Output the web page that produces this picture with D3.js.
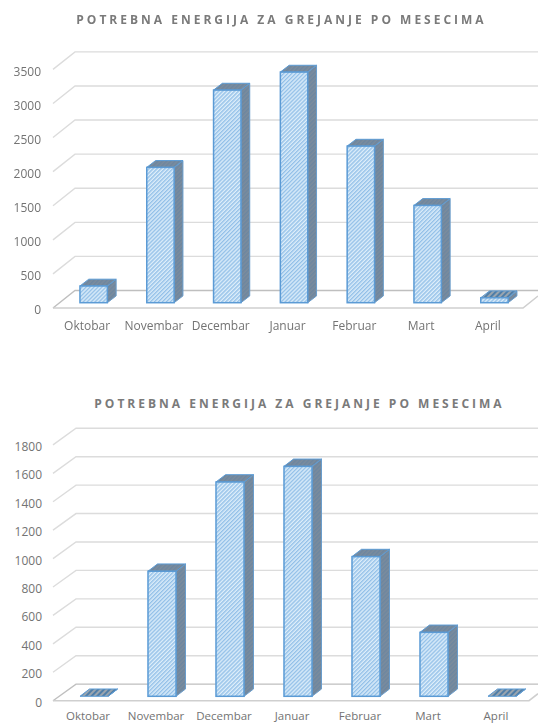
<!DOCTYPE html>
<html>
<head>
<meta charset="utf-8">
<script src="https://cdn.jsdelivr.net/npm/d3@7"></script>
<style>
html, body { margin: 0; padding: 0; background: #fff; }
svg { display: block; }
text { font-family: "Open Sans", sans-serif; fill: #737373; }
.title { font-size: 12px; font-weight: 700; letter-spacing: 3px; text-anchor: middle; fill: #7a7a7a; }
.tick text { font-size: 12px; }
</style>
</head>
<body>
<svg id="chart" width="538" height="724"></svg>
<script>
var chartTitle = "POTREBNA ENERGIJA ZA GREJANJE PO MESECIMA";
var categories = ["Oktobar", "Novembar", "Decembar", "Januar", "Februar", "Mart", "April"];
var topValues = [245, 1985, 3119, 3383, 2297, 1427, 73];
var bottomValues = [0, 880, 1508, 1618, 983, 450, 0];
var topTicks = [0, 500, 1000, 1500, 2000, 2500, 3000, 3500];
var bottomTicks = [0, 200, 400, 600, 800, 1000, 1200, 1400, 1600, 1800];

var svg = d3.select("#chart");
var defs = svg.append("defs");

function hatch(id, bg, fg, size, width) {
  var p = defs.append("pattern").attr("id", id)
    .attr("patternUnits", "userSpaceOnUse")
    .attr("width", size).attr("height", size)
    .attr("patternTransform", "rotate(45)");
  p.append("rect").attr("width", size).attr("height", size).attr("fill", bg);
  p.append("rect").attr("width", width).attr("height", size).attr("fill", fg);
}
hatch("front", "#deeefa", "#93c0e8", 2.8, 1.4);
hatch("dark", "#7c8c9c", "#6c86a0", 3, 1.5);
hatch("flat", "#9aa5af", "#4f7ea8", 4, 2);

defs.append("filter").attr("id", "soft")
  .append("feGaussianBlur").attr("stdDeviation", 0.35);

function drawChart(o) {
  var g = svg.append("g");
  if (o.soft) g.attr("filter", "url(#soft)");

  g.append("text").attr("class", "title")
    .attr("x", o.titleX).attr("y", o.titleY).text(chartTitle);

  var x = d3.scaleBand().domain(categories)
    .range([o.xStart, o.xEnd]).paddingInner(o.padding).paddingOuter(o.padding / 2);
  var y = d3.scaleLinear().domain([0, o.max]).range([o.base, o.top]);

  // wall gridlines with the slanted bit on the left
  var grid = g.append("g");
  o.ticks.forEach(function (t) {
    var yb = y(t) - o.backShift, yf = y(t) + o.frontShift;
    grid.append("path")
      .attr("d", "M" + o.left + "," + yf + "L" + o.backLeft + "," + yb + "L538," + yb)
      .attr("fill", "none")
      .attr("stroke", t === 0 ? "#bfbfbf" : "#dcdcdc")
      .attr("stroke-width", 1.4);
  });
  // floor
  var y0f = y(0) + o.frontShift;
  g.append("path")
    .attr("d", "M" + o.left + "," + y0f + "L" + o.right + "," + y0f + "L538," + (y0f - o.rightRise))
    .attr("fill", "none").attr("stroke", "#cfcfcf").attr("stroke-width", 1.6);

  // bars, back faces first
  var rows = categories.map(function (c, i) { return { cat: c, value: o.values[i] }; });
  var bars = g.selectAll(".bar").data(rows).enter().append("g").attr("class", "bar");
  var w = x.bandwidth();

  bars.append("polygon").attr("points", function (d) {
    var a = x(d.cat), t = y(d.value), b = y(0);
    return [[a + w, t], [a + w + o.dx, t - o.dy], [a + w + o.dx, b - o.dy], [a + w, b]].join(" ");
  }).attr("fill", "url(#dark)").attr("stroke", "#6a9dcc").attr("stroke-width", 1);

  bars.append("polygon").attr("points", function (d) {
    var a = x(d.cat), t = y(d.value);
    return [[a, t], [a + w, t], [a + w + o.dx, t - o.dy], [a + o.dx, t - o.dy]].join(" ");
  }).attr("fill", function (d) { return d.value < 100 ? "url(#flat)" : "url(#dark)"; })
    .attr("stroke", "#5b9bd5").attr("stroke-width", 1);

  bars.filter(function (d) { return d.value > 0; }).append("rect")
    .attr("x", function (d) { return x(d.cat); })
    .attr("y", function (d) { return y(d.value); })
    .attr("width", w).attr("height", function (d) { return y(0) - y(d.value); })
    .attr("fill", "url(#front)").attr("stroke", "#5b9bd5").attr("stroke-width", 1.5);

  // axes
  var ya = g.append("g").attr("transform", "translate(" + o.tickX + "," + (o.frontShift + o.tickDy) + ")")
    .call(d3.axisLeft(y).tickValues(o.ticks).tickSize(0).tickPadding(0).tickFormat(d3.format("d")));
  ya.select(".domain").remove();

  var xa = g.append("g").attr("transform", "translate(" + o.labelShift + "," + o.labelY + ")")
    .call(d3.axisBottom(x).tickSize(0).tickPadding(0));
  xa.select(".domain").remove();
  xa.selectAll("text").style("font-size", o.labelSize + "px");
}

drawChart({
  values: topValues, ticks: topTicks, max: 3500, soft: true,
  base: 302.7, top: 64.1, backShift: 12.2, frontShift: 5.3, tickDy: 2,
  xStart: 60.25, xEnd: 527.85, padding: 0.59,
  left: 53, backLeft: 75, right: 523, rightRise: 12,
  dx: 8.8, dy: 6.8, tickX: 41, labelShift: -6.5, labelY: 321, labelSize: 12,
  titleX: 281.5, titleY: 24
});

drawChart({
  values: bottomValues, ticks: bottomTicks, max: 1800, soft: false,
  base: 696.3, top: 440.5, backShift: 12.2, frontShift: 4.4, tickDy: 1.6,
  xStart: 60, xEnd: 536, padding: 0.588,
  left: 53, backLeft: 76, right: 529, rightRise: 7,
  dx: 9.5, dy: 7.3, tickX: 42, labelShift: -6, labelY: 711.5, labelSize: 11.5,
  titleX: 299.5, titleY: 407.5
});
</script>
</body>
</html>
